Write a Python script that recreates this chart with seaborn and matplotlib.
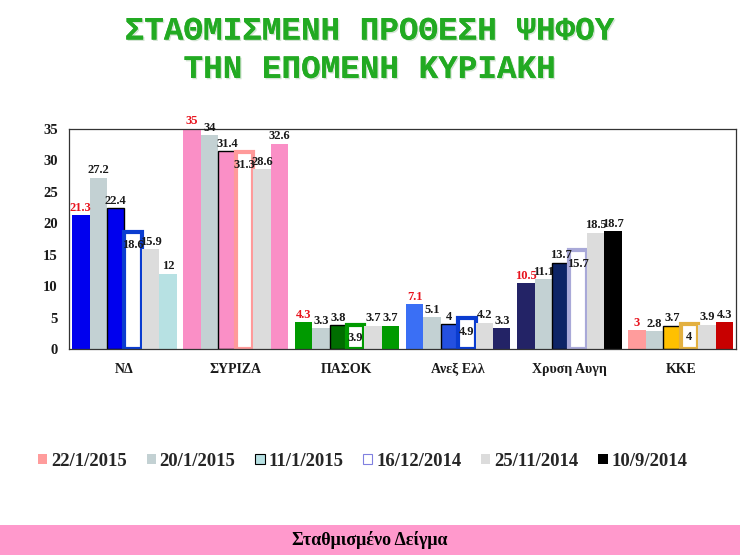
import numpy as np
import pandas as pd
import matplotlib
matplotlib.use('Agg')
import matplotlib.pyplot as plt
import matplotlib.patheffects as pe
from matplotlib.patches import Rectangle, Patch
import seaborn as sns

parties = ['ΝΔ', 'ΣΥΡΙΖΑ', 'ΠΑΣΟΚ', 'Ανεξ Ελλ', 'Χρυση Αυγη', 'ΚΚΕ']
dates = ['22/1/2015', '20/1/2015', '11/1/2015', '16/12/2014', '25/11/2014', '10/9/2014']

v_22_1_2015 = [21.3, 35, 4.3, 7.1, 10.5, 3]
v_20_1_2015 = [27.2, 34, 3.3, 5.1, 11.1, 2.8]
v_11_1_2015 = [22.4, 31.4, 3.8, 4, 13.7, 3.7]
v_16_12_2014 = [18.6, 31.3, 3.9, 4.9, 15.7, 4]
v_25_11_2014 = [15.9, 28.6, 3.7, 4.2, 18.5, 3.9]
v_10_9_2014 = [12, 32.6, 3.7, 3.3, 18.7, 4.3]

values = [v_22_1_2015, v_20_1_2015, v_11_1_2015, v_16_12_2014, v_25_11_2014, v_10_9_2014]

rows = []
for d, vals in zip(dates, values):
    for p, v in zip(parties, vals):
        rows.append({'party': p, 'date': d, 'value': v})
df = pd.DataFrame(rows)

# party colours for each poll (row = party, column = date)
grey_blue = '#C3D1D3'
light_grey = '#DCDCDC'
fill_colors = [
    ['#0000EE', grey_blue, '#0000EE', 'white', light_grey, '#B7E1E3'],
    ['#FA8FC6', grey_blue, '#FA8FC6', 'white', light_grey, '#FA8FC6'],
    ['#009A00', grey_blue, '#006E00', 'white', light_grey, '#009A00'],
    ['#3A6FF5', grey_blue, '#2450E0', 'white', light_grey, '#232366'],
    ['#232366', grey_blue, '#0D2466', 'white', light_grey, '#000000'],
    ['#FF9C9C', grey_blue, '#FFC000', 'white', light_grey, '#C80000'],
]
thick_edges = ['#0A3CD0', '#FF9A9A', '#009A00', '#0A3CD0', '#A9A9D8', '#E3B040']

sns.set_theme(style='white')
plt.rcParams['font.family'] = ['Liberation Serif', 'DejaVu Serif']

fig = plt.figure(figsize=(7.4, 5.55), dpi=100)
ax = fig.add_axes([0.093, 0.371, 0.902, 0.397])

sns.barplot(data=df, x='party', y='value', hue='date', hue_order=dates, order=parties,
            width=0.94, gap=0, saturation=1, ax=ax, legend=False)

for j, cont in enumerate(ax.containers):
    for i, bar in enumerate(cont):
        bar.set_facecolor(fill_colors[i][j])
        if j == 2:
            bar.set_edgecolor('black')
            bar.set_linewidth(1.0)
        elif j == 3:
            bar.set_edgecolor(thick_edges[i])
            bar.set_linewidth(3.0)
        else:
            bar.set_linewidth(0)
    if j == 3:
        labels = ax.bar_label(cont, fmt='%g', padding=-14, fontsize=9, fontweight='bold')
    else:
        labels = ax.bar_label(cont, fmt='%g', padding=1, fontsize=9, fontweight='bold')
    for t in labels:
        t.set_color('#E8141E' if j == 0 else '#1A1A1A')

ax.set_ylim(0, 35)
ax.set_xlim(-0.5, 5.5)
ax.set_yticks(range(0, 36, 5))
ax.set_xlabel('')
ax.set_ylabel('')
for s in ax.spines.values():
    s.set_visible(True)
    s.set_color('#333333')
    s.set_linewidth(0.9)
ax.tick_params(axis='y', which='major', direction='out', length=4, width=0.8,
               color='#333333', labelsize=10.5, pad=4)
ax.tick_params(axis='x', which='major', length=0, labelsize=10, pad=10)
ax.set_xticks(np.arange(-0.5, 6, 1), minor=True)
ax.tick_params(axis='x', which='minor', direction='out', length=4, width=0.8, color='#333333')
for lab in ax.get_xticklabels() + ax.get_yticklabels():
    lab.set_fontweight('bold')
    lab.set_color('#1A1A1A')

handles = [
    Patch(facecolor='#FF9C9C', edgecolor='none'),
    Patch(facecolor=grey_blue, edgecolor='none'),
    Patch(facecolor='#B7E1E3', edgecolor='black', linewidth=0.8),
    Patch(facecolor='white', edgecolor='#8080E0', linewidth=0.8),
    Patch(facecolor=light_grey, edgecolor='none'),
    Patch(facecolor='black', edgecolor='none'),
]
leg = fig.legend(handles, dates, loc='center', bbox_to_anchor=(0.49, 0.169), ncol=6,
                 frameon=False, handlelength=0.5, handleheight=0.5, handletextpad=0.2,
                 columnspacing=1.05, prop={'family': 'Liberation Serif', 'weight': 'bold', 'size': 13.5})

title_color = '#22AA22'
shadow = [pe.withSimplePatchShadow(offset=(1.0, -1.0), shadow_rgbFace='#A8C8A8', alpha=0.5), pe.Normal()]
fig.text(0.5, 0.944, 'ΣΤΑΘΜΙΣΜΕΝΗ ΠΡΟΘΕΣΗ ΨΗΦΟΥ', ha='center', va='center', color=title_color,
         fontsize=23.5, fontweight='bold', family='Liberation Mono', path_effects=shadow)
fig.text(0.5, 0.875, 'ΤΗΝ ΕΠΟΜΕΝΗ ΚΥΡΙΑΚΗ', ha='center', va='center', color=title_color,
         fontsize=23.5, fontweight='bold', family='Liberation Mono', path_effects=shadow)

fig.patches.append(Rectangle((0, 0), 1, 30 / 555, transform=fig.transFigure,
                             facecolor='#FF99CC', edgecolor='none', zorder=0))
fig.text(0.5, 0.027, 'Σταθμισμένο Δείγμα', ha='center', va='center', color='black',
         fontsize=13, fontweight='bold')

fig.savefig('out.png', dpi=100)
